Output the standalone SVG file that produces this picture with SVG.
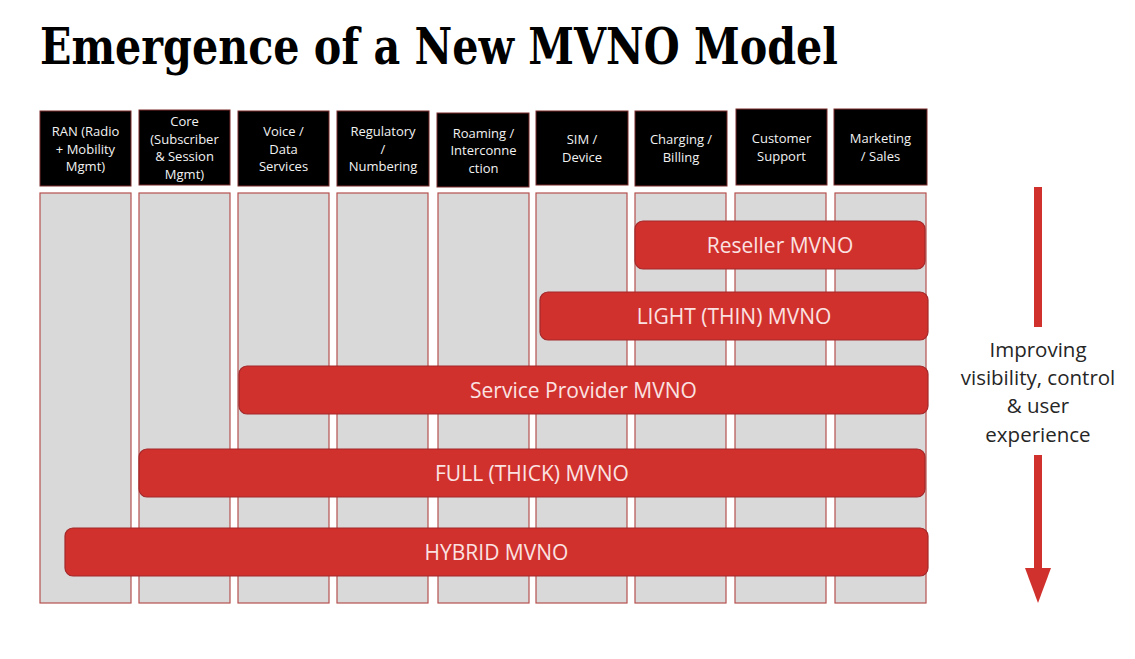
<svg xmlns="http://www.w3.org/2000/svg" width="1135" height="659" viewBox="0 0 1135 659">
<style>
.title{font-family:"DejaVu Serif","Liberation Serif",serif;font-stretch:condensed;font-weight:bold;font-size:50px;fill:#000}
.hdr{fill:#000;stroke:#7a2a2a;stroke-width:1}
.hdrt{font-family:"Open Sans","Noto Sans",sans-serif;font-size:13px;fill:#f2f2f2;text-anchor:middle}
.col{fill:#d9d9d9;stroke:#b5504d;stroke-width:1.2}
.bar{fill:#d0312d;stroke:#a3282a;stroke-width:1.2}
.bart{font-family:"Open Sans","Noto Sans",sans-serif;font-size:21px;fill:#fbe2e2;text-anchor:middle}
.side{font-family:"Open Sans","Noto Sans",sans-serif;font-size:20.5px;fill:#262626;text-anchor:middle}
</style>
<rect width="1135" height="659" fill="#fff"/>
<text class="title" x="40" y="64" textLength="798" lengthAdjust="spacingAndGlyphs">Emergence of a New MVNO Model</text>

<g id="col-ran"><rect class="col" x="40" y="193" width="91" height="410"/><rect class="hdr" x="40" y="111" width="91" height="75"/>
<text class="hdrt"><tspan x="85.5" y="136">RAN (Radio</tspan><tspan x="85.5" y="153.5">+ Mobility</tspan><tspan x="85.5" y="171">Mgmt)</tspan></text></g>
<g id="col-core"><rect class="col" x="139" y="193" width="91" height="410"/><rect class="hdr" x="139" y="110" width="91" height="75"/>
<text class="hdrt"><tspan x="184.5" y="126">Core</tspan><tspan x="184.5" y="143.5">(Subscriber</tspan><tspan x="184.5" y="161">&amp; Session</tspan><tspan x="184.5" y="178.5">Mgmt)</tspan></text></g>
<g id="col-voice"><rect class="col" x="238" y="193" width="91" height="410"/><rect class="hdr" x="238" y="111" width="91" height="75"/>
<text class="hdrt"><tspan x="283.5" y="136">Voice /</tspan><tspan x="283.5" y="153.5">Data</tspan><tspan x="283.5" y="171">Services</tspan></text></g>
<g id="col-reg"><rect class="col" x="337" y="193" width="91" height="410"/><rect class="hdr" x="337" y="111" width="92" height="75"/>
<text class="hdrt"><tspan x="383" y="136">Regulatory</tspan><tspan x="383" y="153.5">/</tspan><tspan x="383" y="171">Numbering</tspan></text></g>
<g id="col-roam"><rect class="col" x="438" y="193" width="91" height="410"/><rect class="hdr" x="437" y="113" width="92" height="74"/>
<text class="hdrt"><tspan x="483.5" y="137.5">Roaming /</tspan><tspan x="483.5" y="155">Interconne</tspan><tspan x="483.5" y="172.5">ction</tspan></text></g>
<g id="col-sim"><rect class="col" x="536" y="193" width="91" height="410"/><rect class="hdr" x="536" y="111" width="92" height="74"/>
<text class="hdrt"><tspan x="582" y="144">SIM /</tspan><tspan x="582" y="161.5">Device</tspan></text></g>
<g id="col-charging"><rect class="col" x="635" y="193" width="91" height="410"/><rect class="hdr" x="635" y="111" width="92" height="75"/>
<text class="hdrt"><tspan x="681" y="144">Charging /</tspan><tspan x="681" y="161.5">Billing</tspan></text></g>
<g id="col-support"><rect class="col" x="735" y="193" width="91" height="410"/><rect class="hdr" x="736" y="109" width="91" height="76"/>
<text class="hdrt"><tspan x="781.5" y="143">Customer</tspan><tspan x="781.5" y="160.5">Support</tspan></text></g>
<g id="col-marketing"><rect class="col" x="835" y="193" width="91" height="410"/><rect class="hdr" x="834" y="109" width="93" height="76"/>
<text class="hdrt"><tspan x="880.5" y="143">Marketing</tspan><tspan x="880.5" y="160.5">/ Sales</tspan></text></g>

<g id="bar-reseller"><rect class="bar" x="635" y="221" width="290" height="48" rx="8"/><text class="bart" x="780" y="252.5">Reseller MVNO</text></g>
<g id="bar-light"><rect class="bar" x="540" y="292" width="388" height="48" rx="8"/><text class="bart" x="734" y="324">LIGHT (THIN) MVNO</text></g>
<g id="bar-sp"><rect class="bar" x="239" y="366" width="689" height="48" rx="8"/><text class="bart" x="583.5" y="397.5">Service Provider MVNO</text></g>
<g id="bar-full"><rect class="bar" x="139" y="449" width="786" height="48" rx="8"/><text class="bart" x="532" y="480.5">FULL (THICK) MVNO</text></g>
<g id="bar-hybrid"><rect class="bar" x="65" y="528" width="863" height="48" rx="8"/><text class="bart" x="496.5" y="559.5">HYBRID MVNO</text></g>

<g id="connectors">
<rect x="1034" y="187" width="8" height="140" fill="#d0312d"/>
<rect x="1034" y="455" width="8" height="115" fill="#d0312d"/>
<polygon points="1025,568 1051,568 1038,603" fill="#d0312d"/>
</g>
<g id="label-improving">
<text class="side"><tspan x="1038" y="356.5">Improving</tspan><tspan x="1038" y="385">visibility, control</tspan><tspan x="1038" y="413">&amp; user</tspan><tspan x="1038" y="442">experience</tspan></text>
</g>
</svg>
